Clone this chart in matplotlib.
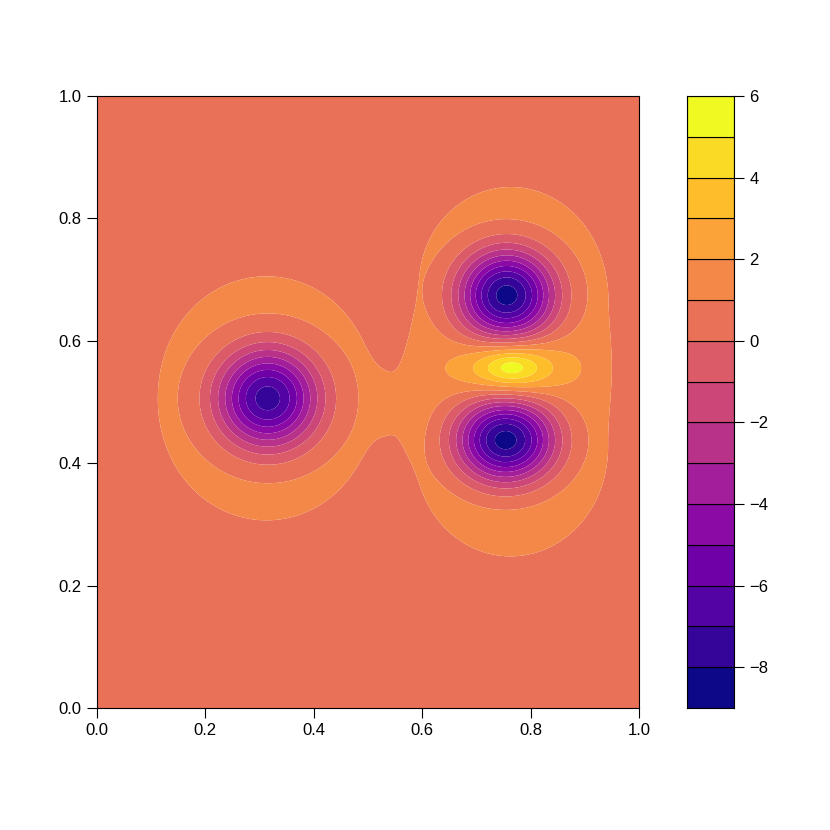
import numpy as np
import matplotlib.pyplot as plt

plt.rcParams['font.family'] = ['Liberation Sans', 'DejaVu Sans']

# contour levels and band colours (plasma, 15 bands)
levels = np.arange(-9, 7, 1)
colorbar_ticks = [-8, -6, -4, -2, 0, 2, 4, 6]
axis_ticks = [0.0, 0.2, 0.4, 0.6, 0.8, 1.0]
background = 0.1

# surface components:
# left halo, right halo, left core, upper lobe, lower lobe, ridge, bridge
comp_x = [0.313, 0.763, 0.315, 0.756, 0.754, 0.764, 0.560]
comp_y = [0.506, 0.550, 0.506, 0.674, 0.438, 0.557, 0.488]
comp_lx = [0.0, 0.0, 0.0, 0.0, 0.0, 0.0, 0.0]     # flat half-length
comp_ly = [0.0, 0.118, 0.0, 0.0, 0.0, 0.0, 0.0]
comp_wx = [0.233, 0.195, 0.095, 0.088, 0.090, 0.077, 0.040]
comp_wy = [0.225, 0.195, 0.082, 0.074, 0.068, 0.040, 0.085]
comp_h = [1.5, 1.5, -9.1, -10.1, -10.1, 5.2, 0.7]
comp_p = [3, 6, 1, 1, 1, 0.8, 1]    # edge sharpness

x = np.linspace(0, 1, 401)
y = np.linspace(0, 1, 401)
X, Y = np.meshgrid(x, y)
Z = np.full_like(X, background)
for cx, cy, lx, ly, wx, wy, h, p in zip(comp_x, comp_y, comp_lx, comp_ly,
                                        comp_wx, comp_wy, comp_h, comp_p):
    dx = np.maximum(np.abs(X - cx) - lx, 0) / wx
    dy = np.maximum(np.abs(Y - cy) - ly, 0) / wy
    Z += h * np.exp(-(dx ** 2 + dy ** 2) ** p)
Z = np.clip(Z, levels[0] + 0.01, levels[-1] - 0.01)

colors = plt.cm.plasma(np.linspace(0, 1, len(levels) - 1))

fig = plt.figure(figsize=(8.3, 8.3), dpi=100)
ax = fig.add_axes([97 / 830, 122 / 830, 542 / 830, 612 / 830])
ax.contourf(X, Y, Z, levels=levels, colors=colors, antialiased=True)
ax.set_xlim(0, 1)
ax.set_ylim(0, 1)
ax.set_xticks(axis_ticks)
ax.set_yticks(axis_ticks)
ax.set_xticklabels([f'{t:.1f}' for t in axis_ticks])
ax.set_yticklabels([f'{t:.1f}' for t in axis_ticks])
ax.tick_params(direction='out', length=7, width=0.8, labelsize=12, pad=4)
for s in ax.spines.values():
    s.set_linewidth(0.8)

cax = fig.add_axes([687 / 830, 122 / 830, 47 / 830, 612 / 830])
cax.bar(0.5, np.diff(levels), bottom=levels[:-1], width=1, color=colors,
        edgecolor='black', linewidth=0.8)
cax.set_xlim(0, 1)
cax.set_ylim(levels[0], levels[-1])
cax.set_xticks([])
cax.yaxis.tick_right()
cax.set_yticks(colorbar_ticks)
cax.set_yticklabels([str(t).replace('-', '\u2212') for t in colorbar_ticks])
cax.tick_params(direction='out', length=7, width=0.8, labelsize=12, pad=4)
for s in cax.spines.values():
    s.set_linewidth(0.8)

fig.savefig('out.png', dpi=100)
